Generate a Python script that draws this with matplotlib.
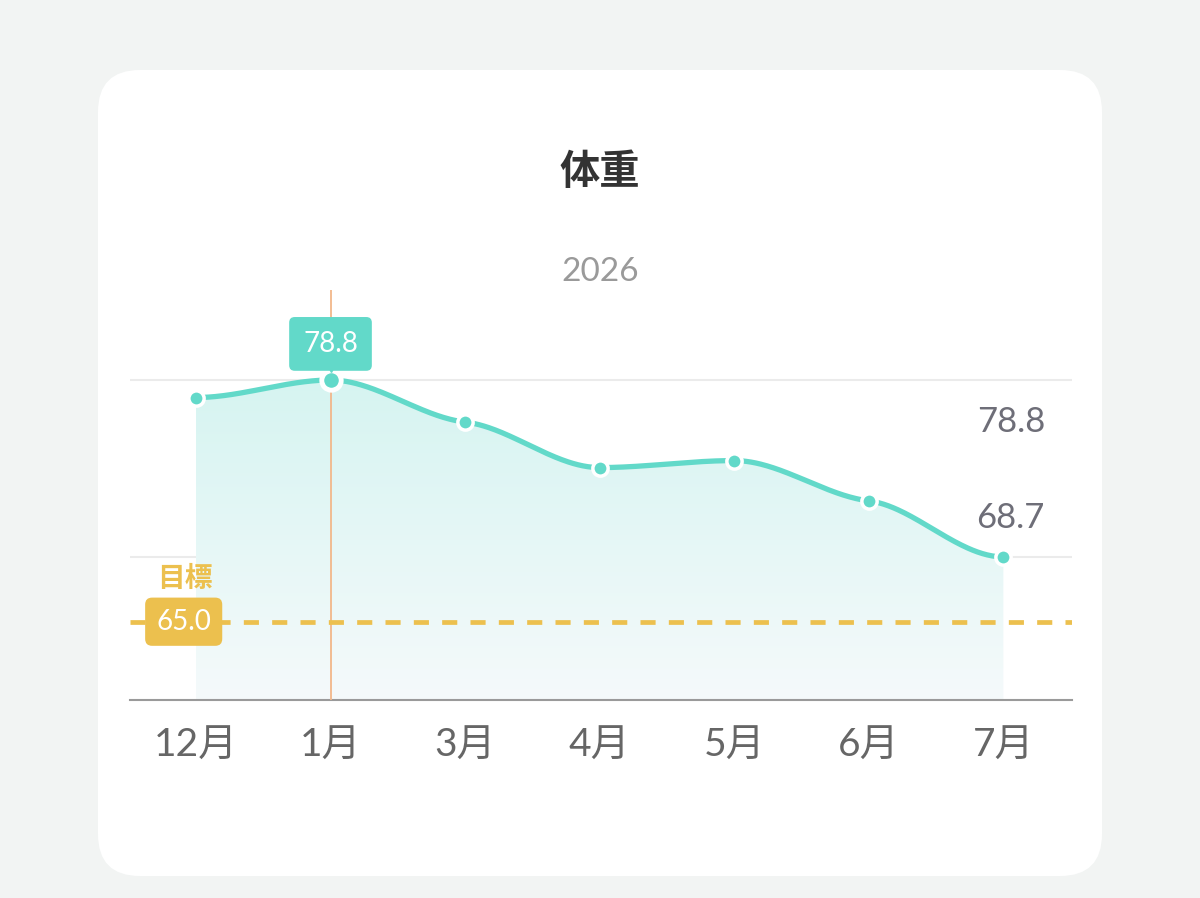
import numpy as np
import matplotlib
matplotlib.use("Agg")
import matplotlib.pyplot as plt
from matplotlib.patches import FancyBboxPatch
from matplotlib import transforms

plt.rcParams['font.family'] = ['Lato', 'Noto Sans CJK JP', 'DejaVu Sans']

# data
months = ['12月', '1月', '3月', '4月', '5月', '6月', '7月']
weight = [77.8, 78.8, 76.4, 73.8, 74.2, 71.9, 68.7]
goal = 65.0
title = '体重'
year = '2026'
selected = 1  # 1月

teal = '#62d9c9'
yellow = '#ecc04e'

x = np.arange(len(months))
y = np.array(weight)

# smooth drawn line: hermite with damped tangents (flat ends)
def smooth(xs, ys, k_t=0.35, n=500):
    h = np.diff(xs)
    d = np.diff(ys) / h
    m = np.zeros(len(xs))
    for i in range(1, len(xs) - 1):
        if d[i-1] * d[i] > 0:
            m[i] = k_t * 2 / (1/d[i-1] + 1/d[i])
    xx = np.linspace(xs[0], xs[-1], n)
    k = np.clip(np.searchsorted(xs, xx) - 1, 0, len(xs) - 2)
    t = (xx - xs[k]) / h[k]
    h00 = 2*t**3 - 3*t**2 + 1
    h10 = t**3 - 2*t**2 + t
    h01 = -2*t**3 + 3*t**2
    h11 = t**3 - t**2
    yy = h00*ys[k] + h10*h[k]*m[k] + h01*ys[k+1] + h11*h[k]*m[k+1]
    return xx, yy

xs, ys = smooth(x.astype(float), y)

fig = plt.figure(figsize=(12, 8.98), dpi=100)
fig.patch.set_facecolor('#f2f4f3')

# card
card = FancyBboxPatch((98/1200, 1-876/898), (1102-98)/1200, (876-70)/898,
                      boxstyle='round,pad=0,rounding_size=0.035',
                      transform=fig.transFigure, fc='white', ec='none',
                      mutation_aspect=1200/898, zorder=-5)
fig.patches.append(card)

fig.text(0.5, 1-172/898, title, ha='center', va='center', fontsize=29,
         fontweight='bold', color='#333333')
fig.text(0.5, 1-272/898, year, ha='center', va='center', fontsize=24,
         color='#9a9a9a')

ax = fig.add_axes([130/1200, 1-700/898, 942/1200, 410/898])
ax.set_zorder(2)
ax.set_facecolor('none')
for s in ['top', 'right', 'left']:
    ax.spines[s].set_visible(False)
ax.spines['bottom'].set_color('#9a9a9a')
ax.spines['bottom'].set_linewidth(1.5)
ax.set_yticks([])
ax.set_xticks(x)
ax.set_xticklabels(months, fontsize=28, color='#666666')
ax.tick_params(axis='x', length=0, pad=20)

# gridlines at max / last
ax.axhline(max(weight), color='#ebebeb', lw=1.5, zorder=1)
ax.axhline(weight[-1], color='#ebebeb', lw=1.5, zorder=1)
ax.annotate(f'{max(weight):.1f}', xy=(0.935, max(weight)),
            xycoords=('axes fraction', 'data'), xytext=(0, -30),
            textcoords='offset points', ha='center', va='center',
            fontsize=25, color='#6e6e78')
ax.annotate(f'{weight[-1]:.1f}', xy=(0.935, weight[-1]),
            xycoords=('axes fraction', 'data'), xytext=(0, 28),
            textcoords='offset points', ha='center', va='center',
            fontsize=25, color='#6e6e78')

# gradient fill under line
y0, y1 = 60.53, 83.94
poly = ax.fill_between(xs, ys, y0, color='none', lw=0)
grad = np.linspace(0, 1, 256).reshape(-1, 1)
cmap = matplotlib.colors.LinearSegmentedColormap.from_list(
    'g', ['#f5fafb', '#d6f4f1'])
img = ax.imshow(grad, cmap=cmap, aspect='auto', origin='lower',
                extent=[xs[0], xs[-1], y0, max(weight)], zorder=2)
img.set_clip_path(poly.get_paths()[0], ax.transData)
ax.set_xlim(-0.49, 6.51)
ax.set_ylim(y0, y1)

# vertical selection line
ax.axvline(x[selected], color='#f2b78a', lw=1.3, zorder=3, ymax=1)

# goal line
ax.axhline(goal, color=yellow, lw=3.4, dashes=(3.2, 2.8), zorder=4)
ax.annotate(f'{goal:.1f}', xy=(0.057, goal),
            xycoords=('axes fraction', 'data'), ha='center', va='center',
            fontsize=20, color='white', zorder=6,
            bbox=dict(boxstyle='round,pad=0.4,rounding_size=0.25',
                      fc=yellow, ec='none'))
ax.annotate('目標', xy=(0.058, goal), xycoords=('axes fraction', 'data'),
            xytext=(0, 31), textcoords='offset points', ha='center',
            va='center', fontsize=20, fontweight='bold', color=yellow,
            zorder=6)

# line and points
ax.plot(xs, ys, color=teal, lw=3.8, zorder=5, solid_capstyle='round')
ax.plot(x, y, 'o', ms=11, mfc=teal, mec='white', mew=2.5, zorder=6)
ax.plot(x[selected], y[selected], 'o', ms=14, mfc=teal, mec='white',
        mew=3.5, zorder=7)

# tooltip
ax.annotate(f'{y[selected]:.1f}', xy=(x[selected], y[selected]),
            xytext=(0, 26), textcoords='offset points', ha='center',
            va='center', fontsize=20, color='white', zorder=8,
            bbox=dict(boxstyle='round,pad=0.5,rounding_size=0.2',
                      fc=teal, ec='none'))
tr = transforms.offset_copy(ax.transData, fig=fig, y=10, units='points')
ax.plot(x[selected], y[selected], 'v', ms=9, color=teal, transform=tr,
        zorder=8, clip_on=False)

fig.savefig('out.png', dpi=100)
